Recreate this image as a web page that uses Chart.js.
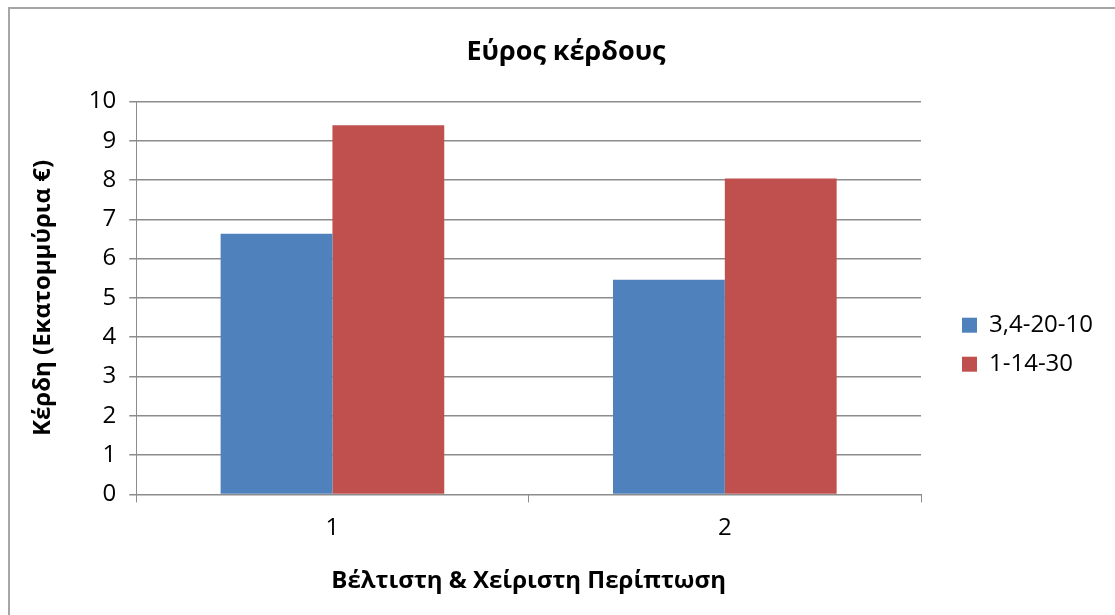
<!DOCTYPE html>
<html>
<head>
<meta charset="utf-8">
<script src="https://cdn.jsdelivr.net/npm/chart.js@4"></script>
<style>
  body { margin: 0; background: #fff; }
  #wrap { position: absolute; left: 0; top: 0; width: 1115px; height: 615px; }
  #frame { position: absolute; left: 8px; top: 7px; right: -10px; bottom: -10px;
           border-left: 2px solid #a6a6a6; border-top: 2px solid #a6a6a6; pointer-events: none; }
</style>
</head>
<body>
<div id="wrap">
  <canvas id="profitChart" width="1115" height="615"></canvas>
  <div id="frame"></div>
</div>
<script>
const categories = ['1', '2'];
const seriesNames = ['3,4-20-10', '1-14-30'];
const blueValues = [6.63, 5.46];
const redValues = [9.39, 8.04];
const yTicks = { min: 0, max: 10, step: 1 };

const fontFamily = "'Open Sans', 'Noto Sans', sans-serif";
const gridColor = '#8c8c8c';

function renderProfitChart() {
    const data = {
        labels: categories,
        datasets: [
            {
                label: seriesNames[0],
                data: blueValues,
                backgroundColor: '#4f81bd',
                yAxisID: 'y'
            },
            {
                label: seriesNames[1],
                data: redValues,
                backgroundColor: '#c0504d',
                yAxisID: 'y'
            }
        ]
    };

    const options = {
        responsive: false,
        animation: false,
        categoryPercentage: 0.57,
        barPercentage: 1.0,
        layout: {
            padding: { top: 24, left: 29, right: 12, bottom: 19 }
        },
        plugins: {
            title: {
                display: true,
                text: 'Εύρος κέρδους',
                color: '#000',
                font: { family: fontFamily, size: 27, weight: 'bold' },
                padding: { top: 12, bottom: 33 }
            },
            legend: {
                display: true,
                position: 'right',
                title: { display: true, text: '', padding: { top: 55, bottom: 0 } },
                labels: {
                    boxWidth: 15,
                    boxHeight: 15,
                    padding: 15,
                    color: '#000',
                    font: { family: fontFamily, size: 24 }
                }
            },
            tooltip: { enabled: false }
        },
        scales: {
            x: {
                grid: {
                    offset: true,
                    drawOnChartArea: false,
                    drawTicks: true,
                    tickLength: 8,
                    color: gridColor
                },
                border: { color: gridColor, width: 1 },
                ticks: {
                    color: '#000',
                    padding: 11,
                    font: { family: fontFamily, size: 24 }
                },
                title: {
                    display: true,
                    text: 'Βέλτιστη & Χείριστη Περίπτωση',
                    color: '#000',
                    font: { family: fontFamily, size: 24, weight: 'bold' },
                    padding: { top: 14, bottom: 0 }
                }
            },
            y: {
                min: yTicks.min,
                max: yTicks.max,
                grid: {
                    color: gridColor,
                    lineWidth: 1.5,
                    tickLength: 7
                },
                border: { color: gridColor, width: 1 },
                ticks: {
                    stepSize: yTicks.step,
                    color: '#000',
                    padding: 13,
                    font: { family: fontFamily, size: 24 }
                },
                title: {
                    display: true,
                    text: 'Κέρδη (Εκατομμύρια €)',
                    color: '#000',
                    font: { family: fontFamily, size: 24, weight: 'bold' },
                    padding: { top: 0, bottom: 18 }
                }
            },
            gap: {
                // empty right axis: keeps the space between plot and legend
                position: 'right',
                display: true,
                grid: { display: false, drawTicks: false },
                border: { display: false },
                ticks: { display: false },
                afterFit: scale => { scale.width = 26; }
            }
        }
    };

    new Chart('profitChart', { type: 'bar', data, options });
}

renderProfitChart();
</script>
</body>
</html>
